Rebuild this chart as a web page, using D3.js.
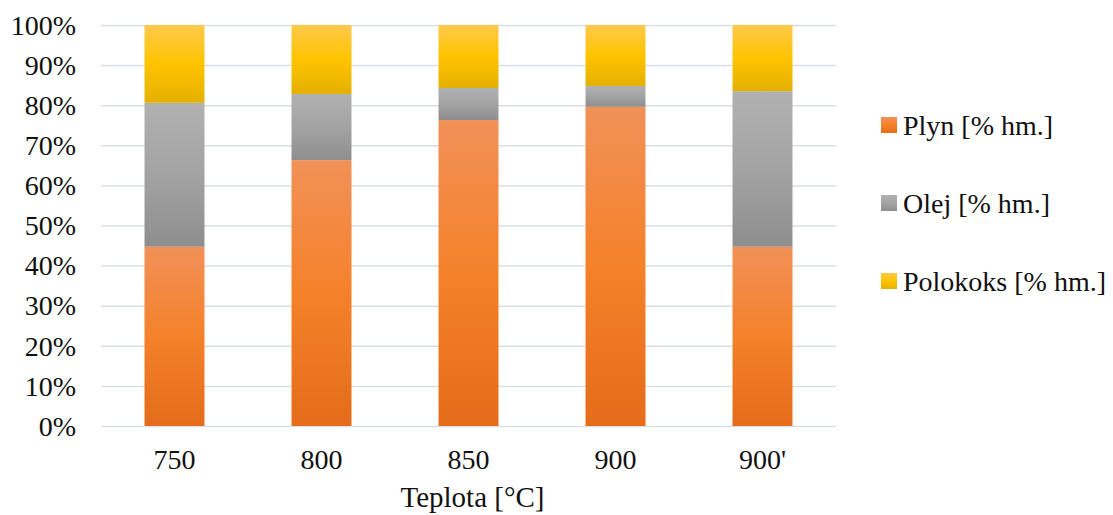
<!DOCTYPE html>
<html>
<head>
<meta charset="utf-8">
<script src="https://cdn.jsdelivr.net/npm/d3@7"></script>
<style>
  html, body { margin: 0; padding: 0; background: #fff; }
  svg { display: block; font-family: "Liberation Serif", "Times New Roman", serif; }
</style>
</head>
<body>
<svg id="chart" width="1113" height="515"></svg>
<script>
// Temperatures (x categories)
const categories = ["750", "800", "850", "900", "900'"];
// Product yields, % by mass
const plyn = [44.7, 66.3, 76.3, 79.6, 44.7];
const olej = [35.9, 16.5, 8.0, 5.2, 38.8];
const polokoks = [19.4, 17.2, 15.7, 15.2, 16.5];
const seriesNames = ["Plyn [% hm.]", "Olej [% hm.]", "Polokoks [% hm.]"];
const yTicks = [0, 0.1, 0.2, 0.3, 0.4, 0.5, 0.6, 0.7, 0.8, 0.9, 1.0];

const rows = categories.map((c, i) => ({ cat: c, plyn: plyn[i], olej: olej[i], polokoks: polokoks[i] }));
const keys = ["plyn", "olej", "polokoks"];

const svg = d3.select("#chart");
const plotLeft = 101, plotRight = 836, plotTop = 25, plotBottom = 426;

// Three-stop vertical gradients per series
const gradients = {
  plyn: ["#F19158", "#F5812A", "#E46C1A"],
  olej: ["#B1B1B1", "#A3A3A3", "#8E8E8E"],
  polokoks: ["#FFC94C", "#FFC400", "#E4B000"]
};
const defs = svg.append("defs");
keys.forEach(k => {
  const g = defs.append("linearGradient").attr("id", "grad-" + k)
    .attr("x1", 0).attr("y1", 0).attr("x2", 0).attr("y2", 1);
  gradients[k].forEach((c, i) => g.append("stop").attr("offset", i / 2).attr("stop-color", c));
});

const x = d3.scaleBand().domain(categories).range([plotLeft, plotRight])
  .paddingInner(0.592).paddingOuter(0.296);
const y = d3.scaleLinear().domain([0, 1]).range([plotBottom, plotTop]);

// Gridlines and y labels
const yAxis = svg.append("g").attr("transform", `translate(${plotLeft},0)`)
  .call(d3.axisLeft(y).tickValues(yTicks).tickFormat(d3.format(".0%"))
    .tickSizeInner(-(plotRight - plotLeft)).tickSizeOuter(0).tickPadding(25));
yAxis.select(".domain").remove();
yAxis.selectAll(".tick line").attr("stroke", "#D9DEE7").attr("stroke-width", 1.5);
yAxis.selectAll(".tick text").attr("fill", "#111").style("font-size", "28px")
  .style("font-family", "'Liberation Serif', serif").attr("dy", "0.33em");

// Stacked bars
const stack = d3.stack().keys(keys).offset(d3.stackOffsetExpand);
const layers = stack(rows);
svg.append("g").selectAll("g").data(layers).join("g")
  .attr("fill", d => `url(#grad-${d.key})`)
  .selectAll("rect").data(d => d).join("rect")
  .attr("x", d => x(d.data.cat))
  .attr("width", x.bandwidth())
  .attr("y", d => y(d[1]))
  .attr("height", d => y(d[0]) - y(d[1]));

// X axis labels
const xAxis = svg.append("g").attr("transform", `translate(0,${plotBottom})`)
  .call(d3.axisBottom(x).tickSize(0).tickPadding(0));
xAxis.select(".domain").remove();
xAxis.selectAll(".tick text").text(null);
xAxis.selectAll(".tick").append("text")
  .attr("y", 43).attr("text-anchor", "middle").attr("fill", "#111")
  .style("font-size", "28px").style("font-family", "'Liberation Serif', serif")
  .text(d => d);

// X axis title
svg.append("text").attr("x", (plotLeft + plotRight) / 2 + 4).attr("y", 507).attr("text-anchor", "middle")
  .attr("fill", "#111").style("font-size", "29px")
  .text("Teplota [°C]");

// Legend
const legend = svg.append("g").selectAll("g").data(keys).join("g")
  .attr("transform", (d, i) => `translate(881,${117 + i * 78})`);
legend.append("rect").attr("width", 16).attr("height", 16)
  .attr("fill", d => `url(#grad-${d})`);
legend.append("text").attr("x", 22).attr("y", 18).attr("fill", "#111")
  .style("font-size", "28px").text((d, i) => seriesNames[i]);
</script>
</body>
</html>
